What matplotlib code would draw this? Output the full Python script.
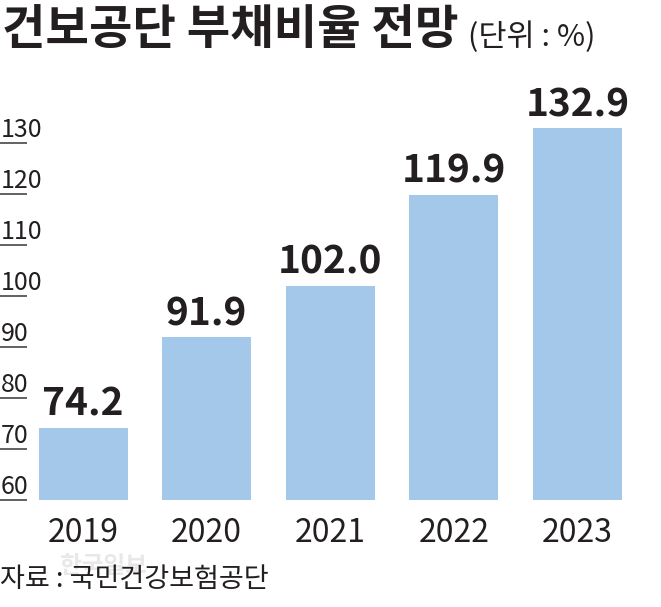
import matplotlib
matplotlib.use("Agg")
import matplotlib.pyplot as plt
import matplotlib.transforms as mtransforms

plt.rcParams['font.family'] = ['Noto Sans CJK KR', 'DejaVu Sans']

years = ['2019', '2020', '2021', '2022', '2023']
values = [74.2, 91.9, 102.0, 119.9, 132.9]
value_labels = ['74.2', '91.9', '102.0', '119.9', '132.9']
yticks = [60, 70, 80, 90, 100, 110, 120, 130]
title = '건보공단 부채비율 전망'
unit = '(단위 : %)'
source = '자료 : 국민건강보험공단'
watermark = '한국일보'

W, H = 661, 607
DPI = 100
TXT = '#231f20'
BAR = '#a4c8ea'

fig = plt.figure(figsize=(W / DPI, H / DPI), dpi=DPI)
fig.patch.set_facecolor('white')

ax_bottom_px = 500
ax_top_px = 92
ax = fig.add_axes([0, (H - ax_bottom_px) / H, 1, (ax_bottom_px - ax_top_px) / H])
ax.set_xlim(-0.672, 4.676)
ax.set_ylim(60, 140)
ax.axis('off')

x = list(range(len(years)))
ax.bar(x, [v - 60 for v in values], bottom=60, width=0.72, color=BAR, zorder=2)

px = 72 / DPI  # points per pixel

for i, (v, lab) in enumerate(zip(values, value_labels)):
    ax.annotate(lab, xy=(i, v), xytext=(0, 12 * px), textcoords='offset points',
                ha='center', va='baseline', fontsize=28, fontweight='black', color=TXT)
    ax.annotate(years[i], xy=(i, 60), xytext=(0, -42 * px), textcoords='offset points',
                ha='center', va='baseline', fontsize=23, color=TXT)

trans = mtransforms.blended_transform_factory(ax.transAxes, ax.transData)
for t in yticks:
    ax.plot([0, 27 / W], [t, t], transform=trans, color='#555555', lw=1.3,
            solid_capstyle='butt', clip_on=False, zorder=3)
    ax.annotate(str(t), xy=(1 / W, t), xycoords=trans, xytext=(0, 6 * px),
                textcoords='offset points', ha='left', va='baseline',
                fontsize=18, color=TXT)

fig.text(2 / W, 1 - 6 / H, title, ha='left', va='top', fontsize=34,
         fontweight='black', color=TXT)
fig.text(468 / W, 1 - 21 / H, unit, ha='left', va='top', fontsize=22, color=TXT)
fig.text(60 / W, 1 - 554 / H, watermark, ha='left', va='top', fontsize=17,
         fontweight='bold', color='#e8e8e8', zorder=0)
fig.text(0 / W, 1 - 566 / H, source, ha='left', va='top', fontsize=19.5, color=TXT)

fig.savefig('out.png', dpi=DPI, facecolor='white')
